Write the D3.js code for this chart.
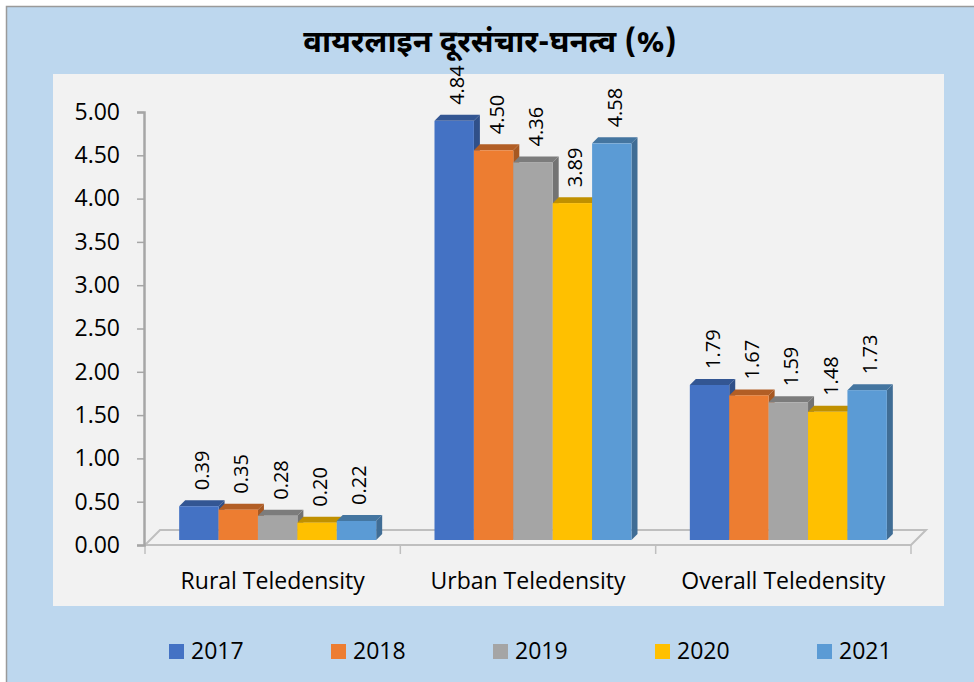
<!DOCTYPE html>
<html>
<head>
<meta charset="utf-8">
<script src="https://cdn.jsdelivr.net/npm/d3@7"></script>
<style>
  html, body { margin: 0; padding: 0; background: #ffffff; }
  svg { display: block; }
</style>
</head>
<body>
<svg id="chart" width="974" height="682"></svg>
<script>
// ---- data ----
const categories = ["Rural Teledensity", "Urban Teledensity", "Overall Teledensity"];
const years = ["2017", "2018", "2019", "2020", "2021"];
const values2017 = [0.39, 4.84, 1.79];
const values2018 = [0.35, 4.50, 1.67];
const values2019 = [0.28, 4.36, 1.59];
const values2020 = [0.20, 3.89, 1.48];
const values2021 = [0.22, 4.58, 1.73];
const seriesValues = [values2017, values2018, values2019, values2020, values2021];
const yTicks = [0, 0.5, 1, 1.5, 2, 2.5, 3, 3.5, 4, 4.5, 5];
const titleText = "वायरलाइन दूरसंचार-घनत्व (%)";
const colors = ["#4472C4", "#ED7D31", "#A5A5A5", "#FFC000", "#5B9BD5"];

// ---- layout ----
const svg = d3.select("#chart");
const font = "'Open Sans', 'Noto Sans', sans-serif";

svg.append("rect").attr("x", 6.5).attr("y", 6.5).attr("width", 1000).attr("height", 700)
  .attr("fill", "#BDD7EE").attr("stroke", "#9a9a9a").attr("stroke-width", 1.5);
svg.append("rect").attr("x", 53).attr("y", 74).attr("width", 891).attr("height", 532)
  .attr("fill", "#F2F2F2");

svg.append("text").attr("x", 490).attr("y", 52).attr("text-anchor", "middle")
  .attr("font-family", "'Noto Sans Devanagari', 'Noto Sans', 'Noto Sans CJK SC', sans-serif")
  .attr("font-weight", "bold").attr("font-size", 31).attr("fill", "#000")
  .text(titleText);

const x0 = d3.scaleBand().domain(categories).range([145, 911]).paddingInner(0).paddingOuter(0);
const x1 = d3.scaleBand().domain(years).range([0, x0.bandwidth()]).paddingInner(0).paddingOuter(0.74);
const y = d3.scaleLinear().domain([0, 5]).range([545, 112]);

const floorDepth = 15, barOffset = 5, barDepth = 6;
const gridColor = "#BFBFBF";

// floor
const fl = [[145, y(0)], [911, y(0)], [911 + floorDepth, y(0) - floorDepth], [145 + floorDepth, y(0) - floorDepth]];
svg.append("polygon").attr("points", fl.map(p => p.join(",")).join(" "))
  .attr("fill", "none").attr("stroke", gridColor).attr("stroke-width", 2);

// category ticks
const bounds = categories.map(c => x0(c)).concat([x0(categories[2]) + x0.bandwidth()]);
svg.selectAll(".ctick").data(bounds).enter().append("line")
  .attr("x1", d => d).attr("x2", d => d).attr("y1", y(0)).attr("y2", y(0) + 9)
  .attr("stroke", gridColor).attr("stroke-width", 1.5);

// y axis
const yAxis = d3.axisLeft(y).tickValues(yTicks).tickFormat(d3.format(".2f")).tickSize(7).tickPadding(17);
const ag = svg.append("g").attr("transform", "translate(144,0)").call(yAxis);
ag.select(".domain").attr("stroke", "#A6A6A6").attr("stroke-width", 2.5);
ag.selectAll(".tick line").attr("stroke", "#A6A6A6").attr("stroke-width", 1.5);
ag.selectAll(".tick text").attr("font-family", font).attr("font-size", 23).attr("fill", "#000");

// bars (left to right so later fronts cover earlier sides)
const barsG = svg.append("g");
const labelsG = svg.append("g");
categories.forEach((cat, ci) => {
  years.forEach((yr, si) => {
    const v = seriesValues[si][ci];
    const bx = x0(cat) + x1(yr) + barOffset;
    const bw = x1.bandwidth();
    const yb = y(0) - barOffset;
    const yt = y(v) - barOffset;
    const base = d3.color(colors[si]);
    const top = base.darker(0.8).formatHex();
    const side = base.darker(1.0).formatHex();
    const d = barDepth;
    barsG.append("polygon")
      .attr("points", [[bx + bw, yt], [bx + bw + d, yt - d], [bx + bw + d, yb - d], [bx + bw, yb]].map(p => p.join(",")).join(" "))
      .attr("fill", side);
    barsG.append("polygon")
      .attr("points", [[bx, yt], [bx + d, yt - d], [bx + bw + d, yt - d], [bx + bw, yt]].map(p => p.join(",")).join(" "))
      .attr("fill", top);
    barsG.append("rect").attr("x", bx).attr("y", yt).attr("width", bw).attr("height", yb - yt)
      .attr("fill", colors[si]);
    const lx = bx + bw / 2 + 3;
    const ly = yt - 16;
    labelsG.append("text")
      .attr("transform", `translate(${lx},${ly}) rotate(-90)`)
      .attr("text-anchor", "start").attr("dy", "0.35em")
      .attr("font-family", font).attr("font-size", 20).attr("fill", "#000")
      .text(d3.format(".2f")(v));
  });
});

// category labels
svg.selectAll(".clabel").data(categories).enter().append("text")
  .attr("x", d => x0(d) + x0.bandwidth() / 2).attr("y", 589)
  .attr("text-anchor", "middle").attr("font-family", font).attr("font-size", 23).attr("fill", "#000")
  .text(d => d);

// legend
const lg = svg.append("g");
years.forEach((yr, i) => {
  const lx = 169 + i * 162;
  lg.append("rect").attr("x", lx).attr("y", 644).attr("width", 15).attr("height", 15).attr("fill", colors[i]);
  lg.append("text").attr("x", lx + 22).attr("y", 659).attr("font-family", font).attr("font-size", 23)
    .attr("fill", "#000").text(yr);
});
</script>
</body>
</html>
